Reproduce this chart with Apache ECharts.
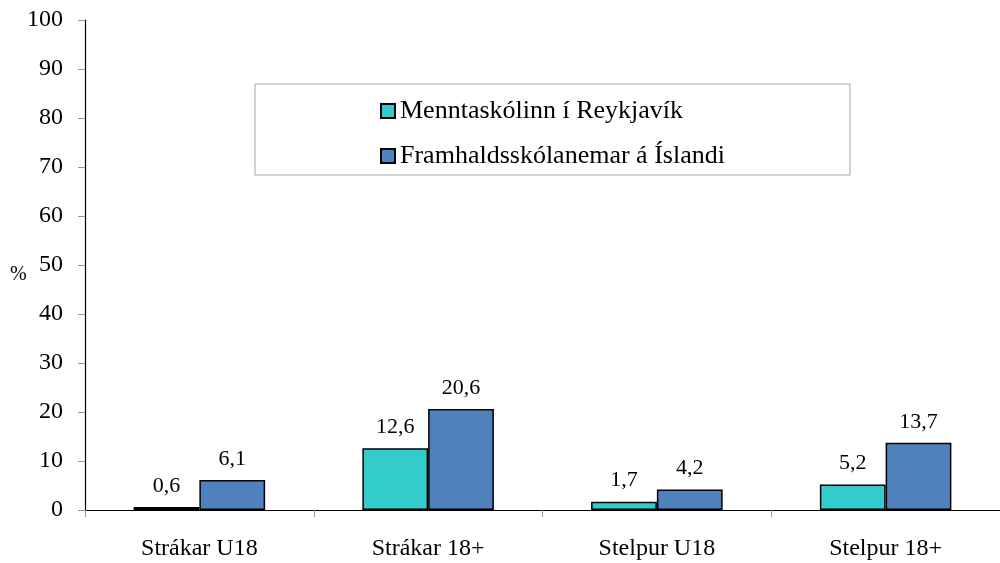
<!DOCTYPE html>
<html>
<head>
<meta charset="utf-8">
<script src="https://cdn.jsdelivr.net/npm/echarts@6/dist/echarts.min.js"></script>
<style>
  html, body { margin: 0; padding: 0; background: #fff; }
  #chart { width: 1000px; height: 563px; }
</style>
</head>
<body>
<div id="chart"></div>
<script>
// gögn
const categories = ['Strákar U18', 'Strákar 18+', 'Stelpur U18', 'Stelpur 18+'];
const seriesNames = ['Menntaskólinn í Reykjavík', 'Framhaldsskólanemar á Íslandi'];
const mrValues = [0.6, 12.6, 1.7, 5.2];
const islandValues = [6.1, 20.6, 4.2, 13.7];

const FONT = '"Liberation Serif", "Times New Roman", serif';

const chart = echarts.init(document.getElementById('chart'));

// íslensk aukastafakomma
const fmt = (p) => String(p.value).replace('.', ',');

function barSeries(name, data, color) {
  return {
    name: name,
    type: 'bar',
    data: data,
    barGap: '0%',
    barCategoryGap: '42.5%',
    itemStyle: { color: color, borderColor: '#000', borderWidth: 1.5 },
    label: {
      show: true,
      position: 'top',
      distance: 10,
      formatter: fmt,
      fontFamily: FONT,
      fontSize: 22,
      color: '#000'
    }
  };
}

chart.setOption({
  animation: false,
  textStyle: { fontFamily: FONT },
  grid: { left: 85, right: -6, top: 20, bottom: 53 },
  graphic: [
    {
      type: 'rect',
      shape: { x: 255, y: 84, width: 595, height: 91 },
      style: { fill: '#fff', stroke: '#a6a6a6', lineWidth: 1 },
      z: 0
    },
    {
      type: 'text',
      left: 10,
      top: 265,
      style: { text: '%', font: '20px ' + FONT, fill: '#000' }
    }
  ],
  legend: {
    orient: 'vertical',
    left: 375,
    top: 93,
    itemWidth: 14,
    itemHeight: 14,
    itemGap: 19,
    icon: 'rect',
    textStyle: { fontFamily: FONT, fontSize: 26, color: '#000' },
    data: seriesNames,
    z: 5
  },
  xAxis: {
    type: 'category',
    data: categories,
    axisLine: { lineStyle: { color: '#000', width: 1.2 } },
    axisTick: { show: true, length: 7, lineStyle: { color: '#999' } },
    axisLabel: { fontFamily: FONT, fontSize: 24, color: '#000', margin: 27 }
  },
  yAxis: {
    type: 'value',
    min: 0,
    max: 100,
    interval: 10,
    splitLine: { show: false },
    axisLine: { show: true, lineStyle: { color: '#000', width: 1.2 } },
    axisTick: { show: true, length: 7, lineStyle: { color: '#999' } },
    axisLabel: { fontFamily: FONT, fontSize: 24, color: '#000', margin: 22 }
  },
  series: [
    barSeries(seriesNames[0], mrValues, '#33CCCC'),
    barSeries(seriesNames[1], islandValues, '#4F81BD')
  ]
});
</script>
</body>
</html>
